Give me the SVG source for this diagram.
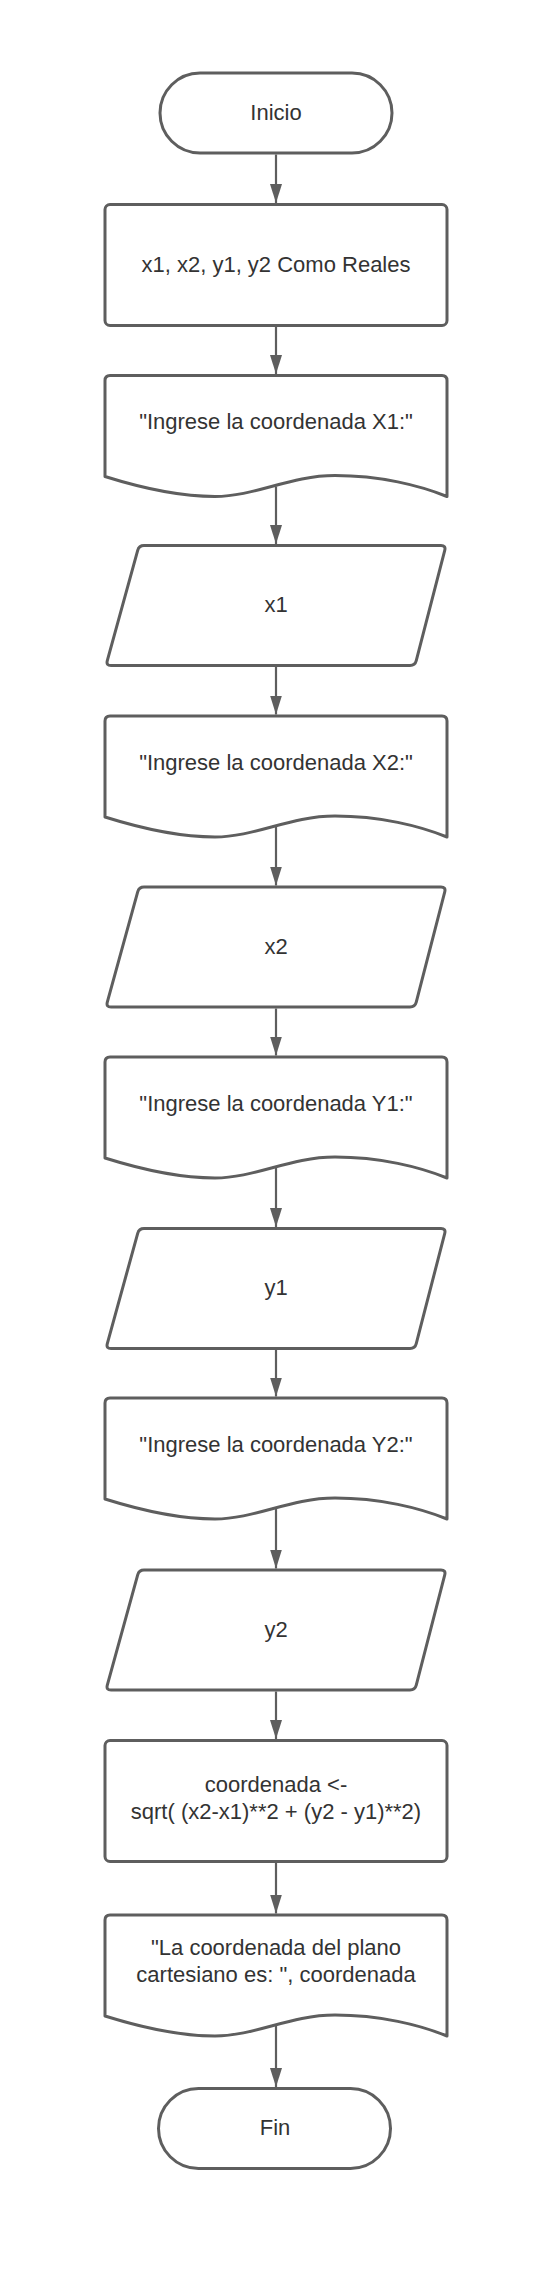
<svg xmlns="http://www.w3.org/2000/svg" xmlns:xlink="http://www.w3.org/1999/xlink" width="560" height="2293" viewBox="0 0 560 2293">
<style>
.shape{fill:#ffffff;stroke:#5e5e5e;stroke-width:3;stroke-linejoin:round}
.lbl{font-family:"Liberation Sans",Arial,sans-serif;font-size:22px;fill:#333333;text-anchor:middle}
.conn{fill:none;stroke:#5e5e5e;stroke-width:2.2}
</style>
<defs>
<marker id="arr" markerUnits="userSpaceOnUse" viewBox="0 0 19 12" markerWidth="19" markerHeight="12" refX="19" refY="6" orient="auto">
<path d="M0,0 L19,6 L0,12 Z" fill="#5e5e5e"/>
</marker>
<rect id="term" x="0" y="0" width="232" height="80" rx="40" ry="40"/>
<rect id="box" x="105" y="0" width="342" height="121" rx="5" ry="5"/>
<path id="doc" d="M105,101 L105,5 Q105,0 110,0 L442,0 Q447,0 447,5 L447,121 C420,110 380,100 335,100 C290,100 255,121 215,121 C180,121 140,112 105,101 Z"/>
<path id="para" d="M144,0 L441,0 Q446,0 444.75,4.84 L416.25,115.16 Q415,120 410,120 L111,120 Q106,120 107.3,115.2 L137.7,4.8 Q139,0 144,0 Z"/>
</defs>
<rect width="560" height="2293" fill="#ffffff"/>

<g id="n-inicio">
<use xlink:href="#term" class="shape" transform="translate(160,73)"/>
<text class="lbl" x="276" y="120">Inicio</text>
</g>
<g id="n-decl">
<use xlink:href="#box" class="shape" transform="translate(0,204.5)"/>
<text class="lbl" x="276" y="272">x1, x2, y1, y2 Como Reales</text>
</g>
<g id="n-out1">
<use xlink:href="#doc" class="shape" transform="translate(0,375.5)"/>
<text class="lbl" x="276" y="429">"Ingrese la coordenada X1:"</text>
</g>
<g id="n-in1">
<use xlink:href="#para" class="shape" transform="translate(0,545.5)"/>
<text class="lbl" x="276" y="612">x1</text>
</g>
<g id="n-out2">
<use xlink:href="#doc" class="shape" transform="translate(0,716)"/>
<text class="lbl" x="276" y="770">"Ingrese la coordenada X2:"</text>
</g>
<g id="n-in2">
<use xlink:href="#para" class="shape" transform="translate(0,887)"/>
<text class="lbl" x="276" y="954">x2</text>
</g>
<g id="n-out3">
<use xlink:href="#doc" class="shape" transform="translate(0,1057)"/>
<text class="lbl" x="276" y="1111">"Ingrese la coordenada Y1:"</text>
</g>
<g id="n-in3">
<use xlink:href="#para" class="shape" transform="translate(0,1228.5)"/>
<text class="lbl" x="276" y="1295">y1</text>
</g>
<g id="n-out4">
<use xlink:href="#doc" class="shape" transform="translate(0,1398)"/>
<text class="lbl" x="276" y="1452">"Ingrese la coordenada Y2:"</text>
</g>
<g id="n-in4">
<use xlink:href="#para" class="shape" transform="translate(0,1570)"/>
<text class="lbl" x="276" y="1637">y2</text>
</g>
<g id="n-calc">
<use xlink:href="#box" class="shape" transform="translate(0,1740.5)"/>
<text class="lbl" x="276" y="1792">coordenada &lt;-</text>
<text class="lbl" x="276" y="1818.5">sqrt( (x2-x1)**2 + (y2 - y1)**2)</text>
</g>
<g id="n-out5">
<use xlink:href="#doc" class="shape" transform="translate(0,1915)"/>
<text class="lbl" x="276" y="1955">"La coordenada del plano</text>
<text class="lbl" x="276" y="1981.5">cartesiano es: ", coordenada</text>
</g>
<g id="n-fin">
<use xlink:href="#term" class="shape" transform="translate(158.5,2088.5)"/>
<text class="lbl" x="275" y="2135">Fin</text>
</g>

<g id="connectors">
<path class="conn" marker-end="url(#arr)" d="M276,154.5 L276,203"/>
<path class="conn" marker-end="url(#arr)" d="M276,326.5 L276,374"/>
<path class="conn" marker-end="url(#arr)" d="M276,486.5 L276,544"/>
<path class="conn" marker-end="url(#arr)" d="M276,666.5 L276,714.5"/>
<path class="conn" marker-end="url(#arr)" d="M276,827 L276,885.5"/>
<path class="conn" marker-end="url(#arr)" d="M276,1008.5 L276,1055.5"/>
<path class="conn" marker-end="url(#arr)" d="M276,1168 L276,1227"/>
<path class="conn" marker-end="url(#arr)" d="M276,1350 L276,1396.5"/>
<path class="conn" marker-end="url(#arr)" d="M276,1509 L276,1568.5"/>
<path class="conn" marker-end="url(#arr)" d="M276,1691.5 L276,1739"/>
<path class="conn" marker-end="url(#arr)" d="M276,1863 L276,1913.5"/>
<path class="conn" marker-end="url(#arr)" d="M276,2026 L276,2087"/>
</g>
</svg>
